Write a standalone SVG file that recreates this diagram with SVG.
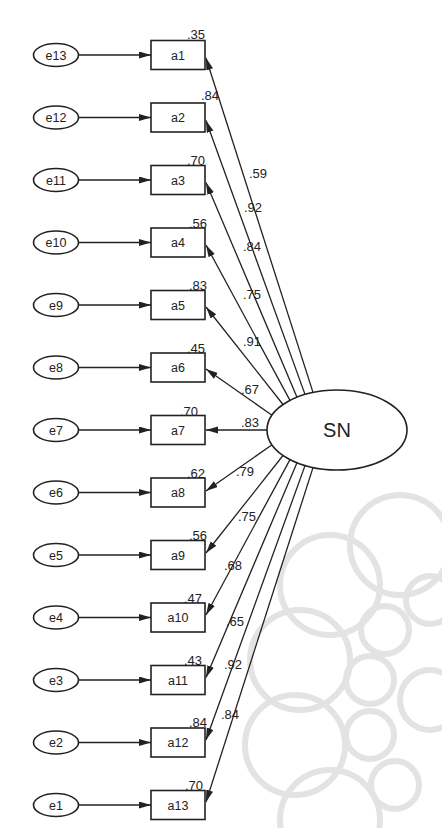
<svg xmlns="http://www.w3.org/2000/svg" width="442" height="828" viewBox="0 0 442 828">
<defs>
<marker id="ah" markerUnits="userSpaceOnUse" markerWidth="13" markerHeight="8" refX="12" refY="3.5" orient="auto">
<path d="M0,0 L12,3.5 L0,7 z" fill="#222"/>
</marker>
<style>
.wm{fill:none;stroke:#e3e3e3;stroke-width:6}
.box{fill:#fff;stroke:#222;stroke-width:1.6}
.el{fill:#fff;stroke:#222;stroke-width:1.6}
.ln{stroke:#222;stroke-width:1.3;fill:none;marker-end:url(#ah)}
.t{font-family:"Liberation Sans",Arial,sans-serif;font-size:12.5px;fill:#222;text-anchor:middle}
.r{font-family:"Liberation Sans",Arial,sans-serif;font-size:13px;fill:#222;text-anchor:end}
.l{font-family:"Liberation Sans",Arial,sans-serif;font-size:13px;fill:#222;text-anchor:middle}
</style>
</defs>
<rect width="442" height="828" fill="#fff"/>
<g id="watermark">
<circle class="wm" cx="300" cy="660" r="50"/>
<circle class="wm" cx="330" cy="585" r="50"/>
<circle class="wm" cx="400" cy="545" r="50"/>
<circle class="wm" cx="295" cy="745" r="50"/>
<circle class="wm" cx="330" cy="820" r="50"/>
<circle class="wm" cx="370" cy="680" r="24"/>
<circle class="wm" cx="385" cy="630" r="24"/>
<circle class="wm" cx="370" cy="735" r="24"/>
<circle class="wm" cx="395" cy="785" r="24"/>
<circle class="wm" cx="430" cy="600" r="24"/>
<circle class="wm" cx="430" cy="700" r="30"/>
</g>
<g id="connectors">
<line class="ln" x1="78.5" y1="55" x2="151" y2="55"/>
<line class="ln" x1="78.5" y1="117.5" x2="151" y2="117.5"/>
<line class="ln" x1="78.5" y1="180" x2="151" y2="180"/>
<line class="ln" x1="78.5" y1="242.5" x2="151" y2="242.5"/>
<line class="ln" x1="78.5" y1="305" x2="151" y2="305"/>
<line class="ln" x1="78.5" y1="367.5" x2="151" y2="367.5"/>
<line class="ln" x1="78.5" y1="430" x2="151" y2="430"/>
<line class="ln" x1="78.5" y1="492.5" x2="151" y2="492.5"/>
<line class="ln" x1="78.5" y1="555" x2="151" y2="555"/>
<line class="ln" x1="78.5" y1="617.5" x2="151" y2="617.5"/>
<line class="ln" x1="78.5" y1="680" x2="151" y2="680"/>
<line class="ln" x1="78.5" y1="742.5" x2="151" y2="742.5"/>
<line class="ln" x1="78.5" y1="805" x2="151" y2="805"/>
<line class="ln" x1="313" y1="392.4" x2="206" y2="58"/>
<line class="ln" x1="305" y1="394.4" x2="206" y2="120.5"/>
<line class="ln" x1="297" y1="397.2" x2="206" y2="182.5"/>
<line class="ln" x1="290" y1="400.4" x2="206" y2="245"/>
<line class="ln" x1="283" y1="404.5" x2="206" y2="307"/>
<line class="ln" x1="272" y1="415.2" x2="206" y2="369"/>
<line class="ln" x1="267" y1="430" x2="206" y2="430"/>
<line class="ln" x1="272" y1="444.8" x2="206" y2="491"/>
<line class="ln" x1="283" y1="455.5" x2="206" y2="553"/>
<line class="ln" x1="290" y1="459.6" x2="206" y2="615"/>
<line class="ln" x1="297" y1="462.8" x2="206" y2="677.5"/>
<line class="ln" x1="305" y1="465.6" x2="206" y2="740"/>
<line class="ln" x1="313" y1="467.6" x2="206" y2="802"/>
</g>
<g id="loadings">
<text class="l" x="258" y="178">.59</text>
<text class="l" x="253" y="212">.92</text>
<text class="l" x="252" y="251">.84</text>
<text class="l" x="252" y="299">.75</text>
<text class="l" x="252" y="346">.91</text>
<text class="l" x="250" y="394">.67</text>
<text class="l" x="250" y="427">.83</text>
<text class="l" x="245" y="476">.79</text>
<text class="l" x="247" y="521">.75</text>
<text class="l" x="233" y="570">.68</text>
<text class="l" x="235" y="626">.65</text>
<text class="l" x="233" y="669">.92</text>
<text class="l" x="230" y="719">.84</text>
</g>
<g id="SN"><ellipse class="el" cx="337" cy="430" rx="70" ry="40"/><text x="337" y="437" style="font-family:'Liberation Sans',Arial,sans-serif;font-size:20px;fill:#222;text-anchor:middle">SN</text></g>
<g id="e13"><ellipse class="el" cx="56" cy="55" rx="22.5" ry="11.5"/><text class="t" x="56" y="59.5">e13</text></g>
<g id="e12"><ellipse class="el" cx="56" cy="117.5" rx="22.5" ry="11.5"/><text class="t" x="56" y="122">e12</text></g>
<g id="e11"><ellipse class="el" cx="56" cy="180" rx="22.5" ry="11.5"/><text class="t" x="56" y="184.5">e11</text></g>
<g id="e10"><ellipse class="el" cx="56" cy="242.5" rx="22.5" ry="11.5"/><text class="t" x="56" y="247">e10</text></g>
<g id="e9"><ellipse class="el" cx="56" cy="305" rx="22.5" ry="11.5"/><text class="t" x="56" y="309.5">e9</text></g>
<g id="e8"><ellipse class="el" cx="56" cy="367.5" rx="22.5" ry="11.5"/><text class="t" x="56" y="372">e8</text></g>
<g id="e7"><ellipse class="el" cx="56" cy="430" rx="22.5" ry="11.5"/><text class="t" x="56" y="434.5">e7</text></g>
<g id="e6"><ellipse class="el" cx="56" cy="492.5" rx="22.5" ry="11.5"/><text class="t" x="56" y="497">e6</text></g>
<g id="e5"><ellipse class="el" cx="56" cy="555" rx="22.5" ry="11.5"/><text class="t" x="56" y="559.5">e5</text></g>
<g id="e4"><ellipse class="el" cx="56" cy="617.5" rx="22.5" ry="11.5"/><text class="t" x="56" y="622">e4</text></g>
<g id="e3"><ellipse class="el" cx="56" cy="680" rx="22.5" ry="11.5"/><text class="t" x="56" y="684.5">e3</text></g>
<g id="e2"><ellipse class="el" cx="56" cy="742.5" rx="22.5" ry="11.5"/><text class="t" x="56" y="747">e2</text></g>
<g id="e1"><ellipse class="el" cx="56" cy="805" rx="22.5" ry="11.5"/><text class="t" x="56" y="809.5">e1</text></g>
<g id="a1"><rect class="box" x="151" y="40.5" width="54" height="29"/><text class="t" x="178" y="59.5">a1</text><text class="r" x="205" y="39">.35</text></g>
<g id="a2"><rect class="box" x="151" y="103" width="54" height="29"/><text class="t" x="178" y="122">a2</text><text class="r" x="219" y="100">.84</text></g>
<g id="a3"><rect class="box" x="151" y="165.5" width="54" height="29"/><text class="t" x="178" y="184.5">a3</text><text class="r" x="205" y="165">.70</text></g>
<g id="a4"><rect class="box" x="151" y="228" width="54" height="29"/><text class="t" x="178" y="247">a4</text><text class="r" x="207" y="228">.56</text></g>
<g id="a5"><rect class="box" x="151" y="290.5" width="54" height="29"/><text class="t" x="178" y="309.5">a5</text><text class="r" x="207" y="290">.83</text></g>
<g id="a6"><rect class="box" x="151" y="353" width="54" height="29"/><text class="t" x="178" y="372">a6</text><text class="r" x="205" y="353">.45</text></g>
<g id="a7"><rect class="box" x="151" y="415.5" width="54" height="29"/><text class="t" x="178" y="434.5">a7</text><text class="r" x="198" y="416">.70</text></g>
<g id="a8"><rect class="box" x="151" y="478" width="54" height="29"/><text class="t" x="178" y="497">a8</text><text class="r" x="205" y="478">.62</text></g>
<g id="a9"><rect class="box" x="151" y="540.5" width="54" height="29"/><text class="t" x="178" y="559.5">a9</text><text class="r" x="207" y="540">.56</text></g>
<g id="a10"><rect class="box" x="151" y="603" width="54" height="29"/><text class="t" x="178" y="622">a10</text><text class="r" x="202" y="603">.47</text></g>
<g id="a11"><rect class="box" x="151" y="665.5" width="54" height="29"/><text class="t" x="178" y="684.5">a11</text><text class="r" x="202" y="665">.43</text></g>
<g id="a12"><rect class="box" x="151" y="728" width="54" height="29"/><text class="t" x="178" y="747">a12</text><text class="r" x="207" y="727">.84</text></g>
<g id="a13"><rect class="box" x="151" y="790.5" width="54" height="29"/><text class="t" x="178" y="809.5">a13</text><text class="r" x="203" y="790">.70</text></g>
</svg>
